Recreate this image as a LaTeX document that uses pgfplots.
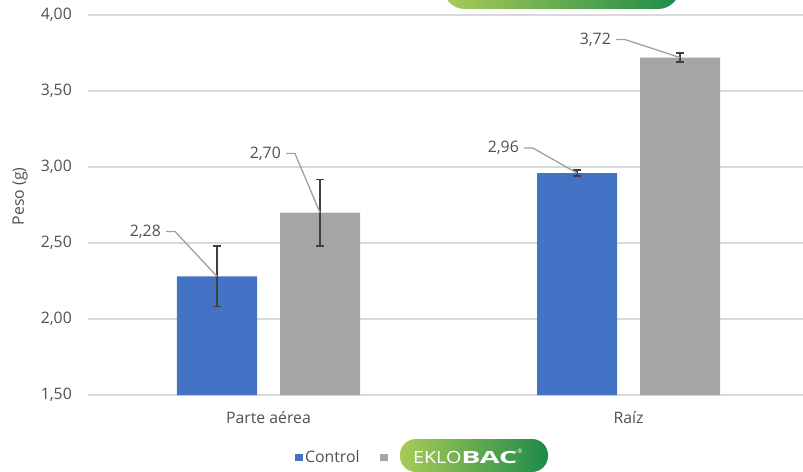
\documentclass[border=0pt]{standalone}
\usepackage{fontspec}
\setmainfont{Open Sans}
\usepackage{graphicx}
\usepackage{pgfplots}
\usepackage{pgfplotstable}
\pgfplotsset{compat=1.18}

\definecolor{ctrlblue}{HTML}{4472C4}
\definecolor{eklogray}{HTML}{A5A5A5}
\definecolor{gridgray}{HTML}{D9D9D9}
\definecolor{txtgray}{HTML}{505050}
\definecolor{leadgray}{HTML}{A0A0A0}
\definecolor{errgray}{HTML}{404040}
\definecolor{greenlight}{HTML}{A9CB56}
\definecolor{greendark}{HTML}{1E8A4A}

\newcommand\chartfont{\fontsize{15.8bp}{18bp}\selectfont}

% x: category, y: mean, e: error, dx/dy: label elbow offset (bp)
\pgfplotstableread{
x y e dx dy
0 2.28 0.20 -42 45
1 2.96 0.02 -44 25
}\ctrl
\pgfplotstableread{
x y e dx dy
0 2.70 0.22 -25 59
1 3.72 0.03 -55 18
}\eklo

\tikzset{
  leader/.style={draw=leadgray, fill=none, line width=1.3bp,
    to path={([xshift=5bp]\tikztostart) -- ([xshift=14bp]\tikztostart)
      -- ++({0-(\ldx)*1bp},{0-(\ldy)*1bp})}},
}

\pgfplotsset{
  lbl/.style={
    nodes near coords,
    visualization depends on={\thisrow{dx} \as \ldx},
    visualization depends on={\thisrow{dy} \as \ldy},
    every node near coord/.append style={anchor=east, inner sep=0pt,
      font=\chartfont, text=txtgray,
      xshift={(\ldx-14)*1bp}, yshift={(\ldy)*1bp},
      append after command={(\tikzlastnode.east) edge[leader] (\tikzlastnode.east)}},
  },
  errs/.style={
    error bars/.cd, y dir=both, y explicit,
    error bar style={line width=1.3bp, draw=errgray},
    error mark options={rotate=90, line width=1.3bp, draw=errgray, mark size=3.7bp},
  },
}

\begin{document}
\begin{tikzpicture}[font=\chartfont]
\path[use as bounding box] (-88.5bp,-77bp) rectangle (714.5bp,395bp);

% logo band at the top
\shade[left color=greenlight, right color=greendark, rounded corners=22bp]
  (354.5bp,386bp) rectangle (591.5bp,440bp);

\begin{axis}[
  width=720bp, height=380bp, scale only axis,
  xmin=-0.5, xmax=1.5, ymin=1.5, ymax=4,
  ybar=23bp, bar width=80bp,
  xtick={0,1}, xticklabels={Parte aérea, Raíz},
  ytick={1.5,2,...,4},
  ymajorgrids, grid style={gridgray, line width=1.2bp},
  axis line style={draw=none},
  major tick length=0pt,
  /pgf/number format/.cd, use comma, fixed, fixed zerofill, precision=2,
  assume math mode=true, /pgfplots/.cd,
  tick label style={font=\chartfont, text=txtgray},
  yticklabel style={inner sep=0pt, anchor=east, xshift=-16.5bp},
  xticklabel style={inner sep=0pt, anchor=center, yshift=-23bp},
  ylabel={Peso (g)},
  ylabel style={at={(axis description cs:-0.0951,0.523)}, anchor=center,
    font=\chartfont, text=txtgray},
]
\addplot[fill=ctrlblue, draw=none, lbl, errs]
  table[x=x, y=y, y error=e] {\ctrl};
\addplot[fill=eklogray, draw=none, lbl, errs]
  table[x=x, y=y, y error=e] {\eklo};
\end{axis}

% legend
\fill[ctrlblue] (206.5bp,-66bp) rectangle (214bp,-58.5bp);
\node[anchor=west, inner sep=0pt, text=txtgray] at (216.5bp,-62bp) {Control};
\fill[eklogray] (291.5bp,-66bp) rectangle (299bp,-58.5bp);
\shade[left color=greenlight, right color=greendark, rounded corners=16bp]
  (311.5bp,-77bp) rectangle (459.5bp,-44bp);
\node[anchor=west, inner sep=0pt, text=white] at (324.5bp,-61bp)
  {\fontsize{16.8bp}{18bp}\selectfont\scalebox{1.17}[1]{EKLO}\scalebox{1.7}[1]{\bfseries BAC}\raisebox{1.1ex}{\fontsize{6bp}{7bp}\selectfont ®}};
\end{tikzpicture}
\end{document}
